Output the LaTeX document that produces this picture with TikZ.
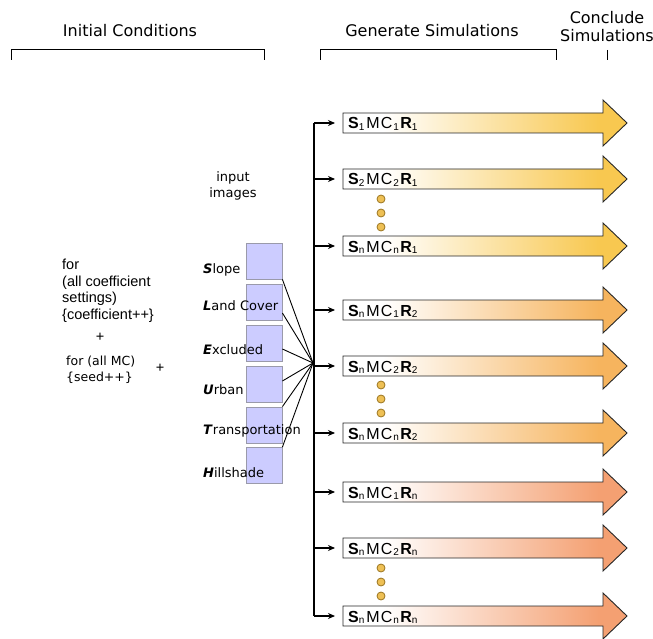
\documentclass[tikz,border=0pt]{standalone}
\usepackage{fontspec}
\setmainfont{DejaVu Sans}
\newfontfamily\arialfont{Liberation Sans}
\usetikzlibrary{arrows.meta,calc}
\definecolor{cA}{HTML}{F8C850}
\definecolor{cB}{HTML}{F6B45E}
\definecolor{cC}{HTML}{F4A072}
\definecolor{boxfill}{HTML}{CCCCFF}
\definecolor{boxline}{HTML}{9A9AAA}
\definecolor{dotfill}{HTML}{EEC055}
\definecolor{dotline}{HTML}{9A7420}
\pgfdeclarehorizontalshading{shA}{100bp}{color(0bp)=(white); color(32bp)=(white); color(70bp)=(cA); color(100bp)=(cA)}
\pgfdeclarehorizontalshading{shB}{100bp}{color(0bp)=(white); color(32bp)=(white); color(70bp)=(cB); color(100bp)=(cB)}
\pgfdeclarehorizontalshading{shC}{100bp}{color(0bp)=(white); color(32bp)=(white); color(70bp)=(cC); color(100bp)=(cC)}
\newcommand{\sbs}[1]{\raisebox{-1.5pt}{\fontsize{10}{10}\selectfont #1}}
\newcommand{\simlab}[3]{\textbf{S}\sbs{#1}\kern2pt M\kern1pt C\kern1pt\sbs{#2}\kern1.5pt\textbf{R}\sbs{#3}}
\newcommand{\simarrow}[4]{%
  \path[simbody, shade, shading=#3] (343,#2-10) -- (603,#2-10) -- (603,#2-23) -- (627,#2) -- (603,#2+23) -- (603,#2+10) -- (343,#2+10) -- cycle;
  \coordinate (#1) at (343,#2);
  \node[simtxt] (#1t) at (348,#2+6) {#4};
}
\begin{document}
\begin{tikzpicture}[x=1pt,y=-1pt,
  imgbox/.style={draw=boxline, fill=boxfill, minimum width=36pt, minimum height=36pt, inner sep=0pt, line width=0.8pt},
  lbl/.style={font=\fontsize{13}{15}\selectfont, anchor=base west, inner sep=0pt},
  hdr/.style={font=\fontsize{16}{19}\selectfont, anchor=base, inner sep=0pt},
  ftxt/.style={font=\arialfont\fontsize{14.5}{17}\selectfont, anchor=base west, inner sep=0pt},
  gtxt/.style={font=\fontsize{12.5}{15}\selectfont, anchor=base west, inner sep=0pt},
  feed/.style={line width=1.1pt, -{Stealth[length=7pt,width=6pt]}, shorten >=8pt},
  fan/.style={line width=0.9pt},
  bracket/.style={line width=0.9pt},
  simbody/.style={draw=black!85, line width=0.9pt},
  dot/.style={circle, draw=dotline, fill=dotfill, line width=0.8pt, minimum size=8pt, inner sep=0pt},
  simtxt/.style={font=\arialfont\fontsize{16}{18}\selectfont, anchor=base west, inner sep=0pt}]
\useasboundingbox (0,0) rectangle (653,639);

% headers
\node[hdr] (h1) at (130,37) {Initial Conditions};
\node[hdr] (h2) at (432,37) {Generate Simulations};
\node[hdr] (h3a) at (607,24) {Conclude};
\node[hdr] (h3b) at (607,42) {Simulations};
\draw[bracket] (11,60) -- (11,49) -- (264,49) -- (264,60);
\draw[bracket] (320,60) -- (320,49) -- (556,49) -- (556,60);
\draw[bracket] (607,50) -- (607,60);

% loop text
\node[ftxt] (f1) at (62,269) {for};
\node[ftxt] (f2) at (62,286) {(all coefficient};
\node[ftxt] (f3) at (62,302.5) {settings)};
\node[ftxt] (f4) at (62,319) {\{coefficient++\}};
\node[ftxt, anchor=center] (p1) at (100,337) {+};
\node[gtxt] (g1) at (66,365) {for (all MC)};
\node[gtxt] (g2) at (66,381) {\{seed++\}};
\node[ftxt, anchor=center] (p2) at (160,368) {+};

% input images
\node[gtxt, anchor=base, font=\fontsize{13}{15}\selectfont] (in1) at (233,182) {input};
\node[gtxt, anchor=base, font=\fontsize{13}{15}\selectfont] (in2) at (233,197) {images};
\node[imgbox] (b1) at (264,261) {};
\node[imgbox] (b2) at (264,302) {};
\node[imgbox] (b3) at (264,343) {};
\node[imgbox] (b4) at (264,384) {};
\node[imgbox] (b5) at (264,425) {};
\node[imgbox] (b6) at (264,465.5) {};
\node[lbl] (l1) at (203,273) {\textbf{\textit{S}}lope};
\node[lbl] (l2) at (203,310.5) {\textbf{\textit{L}}and Cover};
\node[lbl] (l3) at (203,354) {\textbf{\textit{E}}xcluded};
\node[lbl] (l4) at (203,394) {\textbf{\textit{U}}rban};
\node[lbl] (l5) at (203,434) {\textbf{\textit{T}}ransportation};
\node[lbl] (l6) at (203,477.5) {\textbf{\textit{H}}illshade};

% fan into hub
\coordinate (hub) at (313,363);
\draw[fan] (b1.south east) -- (hub);
\draw[fan] ([yshift=-11pt]b2.east) -- (hub);
\draw[fan] ([yshift=-6pt]b3.east) -- (hub);
\draw[fan] ([yshift=3pt]b4.east) -- (hub);
\draw[fan] (b5.north east) -- (hub);
\draw[fan] (b6.north east) -- (hub);

% simulation arrows
\simarrow{r1}{123}{shA}{\simlab{1}{1}{1}}
\simarrow{r2}{179}{shA}{\simlab{2}{2}{1}}
\simarrow{r3}{246}{shA}{\simlab{n}{n}{1}}
\simarrow{r4}{310}{shB}{\simlab{n}{1}{2}}
\simarrow{r5}{366}{shB}{\simlab{n}{2}{2}}
\simarrow{r6}{433}{shB}{\simlab{n}{n}{2}}
\simarrow{r7}{492}{shC}{\simlab{n}{1}{n}}
\simarrow{r8}{548}{shC}{\simlab{n}{2}{n}}
\simarrow{r9}{616}{shC}{\simlab{n}{n}{n}}

% spine and feeds
\coordinate (top) at (314,123);
\coordinate (bot) at (314,616);
\draw[line width=1.1pt] (top) -- (bot);
\foreach \r in {r1,r2,r3,r4,r5,r6,r7,r8,r9}
  \draw[feed] (\r -| top) -- (\r);

% dots
\foreach \y [count=\i] in {199,213,227,385,399,413,568,582,596}
  \node[dot] (d\i) at (381,\y) {};
\end{tikzpicture}
\end{document}
